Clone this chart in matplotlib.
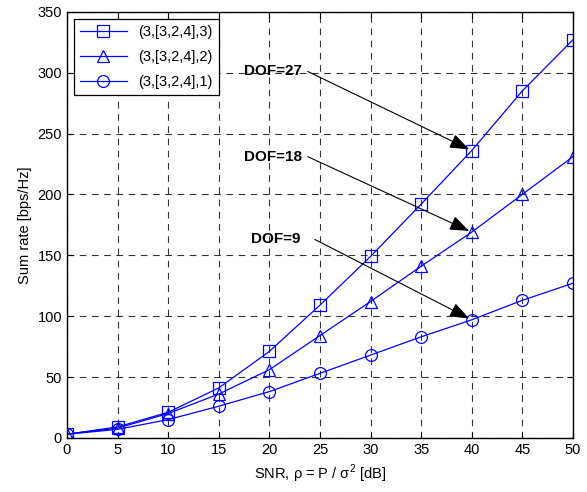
import matplotlib
matplotlib.use("Agg")
import matplotlib.pyplot as plt

plt.rcParams['font.family'] = ['Liberation Sans', 'DejaVu Sans']
plt.rcParams['mathtext.fontset'] = 'custom'
plt.rcParams['mathtext.rm'] = 'Liberation Sans'

snr = [0, 5, 10, 15, 20, 25, 30, 35, 40, 45, 50]
rate_3 = [3, 9, 21, 41, 71, 109, 149, 192, 236, 285, 327]
rate_2 = [3, 8, 20, 36, 56, 84, 112, 141, 169, 200, 231]
rate_1 = [3, 7, 15, 26, 38, 53, 68, 83, 97, 113, 127]
labels = ['(3,[3,2,4],3)', '(3,[3,2,4],2)', '(3,[3,2,4],1)']
markers = ['s', '^', 'o']
dof_labels = ['DOF=27', 'DOF=18', 'DOF=9']
dof_text_pos = [(17.5, 301), (17.5, 231), (18.2, 163)]
dof_target_x = 40

fig = plt.figure(figsize=(5.87, 4.92), dpi=100)
ax = fig.add_axes([0.114, 0.110, 0.862, 0.866])

series = [rate_3, rate_2, rate_1]
for ys, lab, m in zip(series, labels, markers):
    ax.plot(snr, ys, color='#0000ff', lw=0.9, marker=m, markersize=8.5,
            markerfacecolor='none', markeredgecolor='#0000ff', markeredgewidth=0.9,
            label=lab)

ax.set_xlim(0, 50)
ax.set_ylim(0, 350)
ax.set_xticks(snr)
ax.set_yticks(range(0, 351, 50))
ax.grid(True, color='black', linestyle=(0, (6, 5)), linewidth=0.8, alpha=0.8)
ax.tick_params(direction='in', length=4, labelsize=10.5, top=True, right=True,
               labeltop=False, labelright=False)
for s in ax.spines.values():
    s.set_linewidth(1.0)

ax.set_xlabel('SNR, ρ = P / σ$^2$ [dB]', fontsize=10.5)
ax.set_ylabel('Sum rate [bps/Hz]', fontsize=10.5)

for txt, (tx, ty), ys in zip(dof_labels, dof_text_pos, series):
    ty_target = ys[snr.index(dof_target_x)]
    ax.text(tx, ty, txt, fontsize=11, fontweight='bold', ha='left', va='center')
    ax.annotate('', xy=(dof_target_x, ty_target), xytext=(tx + 6.3, ty),
                arrowprops=dict(arrowstyle='-|>,head_length=1.2,head_width=0.45',
                                color='black', lw=0.8, shrinkA=0, shrinkB=2))

leg = ax.legend(loc='upper left', fontsize=10.5, fancybox=False, framealpha=1,
                edgecolor='black', handlelength=3.2, borderaxespad=0.5,
                labelspacing=0.75)
leg.get_frame().set_linewidth(0.9)

fig.savefig('out.png', dpi=100)
